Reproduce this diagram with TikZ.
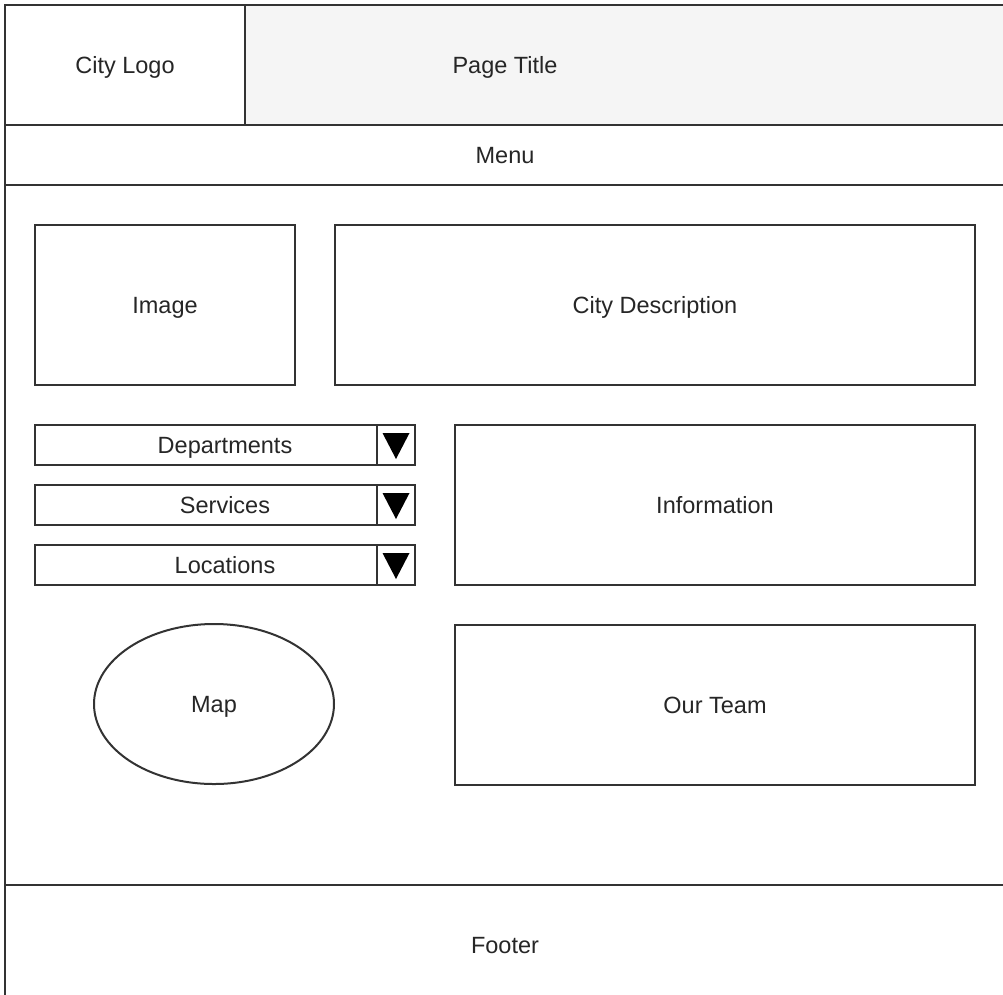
\documentclass[tikz,border=0pt]{standalone}
\usepackage{fontspec}
\setmainfont{Liberation Sans}
\usetikzlibrary{shapes.geometric}
\begin{document}
\begin{tikzpicture}[x=1pt,y=-1pt,line width=2pt,
    every node/.style={font=\fontsize{23.5}{28}\selectfont,text=black!85,text height=17,text depth=0},
    box/.style={draw=black!80,rectangle,inner sep=0,anchor=north west,fill=white},
    oval/.style={draw=black!80,ellipse,inner sep=0,fill=white}]
        \useasboundingbox (0,0) rectangle (1003,994);
        \node[box,fill=black!4,minimum width=1000,minimum height=120] (title) at (4,4) {Page Title};
        \node[box,minimum width=240,minimum height=120] (logo) at (4,4) {City Logo};
        \node[box,minimum width=1000,minimum height=60] (menu) at (4,124) {Menu};
        \node[box,minimum width=1000,minimum height=700] (body) at (4,184) {};
        \node[box,minimum width=1000,minimum height=120] (footer) at (4,884) {Footer};
        \node[box,minimum width=260,minimum height=160] (image) at (34,224) {Image};
        \node[box,minimum width=640,minimum height=160] (desc) at (334,224) {City Description};
        \foreach \name/\label/\y in {dept/Departments/424,serv/Services/484,loc/Locations/544}{
            \node[box,minimum width=380,minimum height=40] (\name) at (34,\y) {\label};
            \node[box,minimum width=38,minimum height=40] (\name arrow) at (376,\y) {};
            \fill[black] (\name arrow.center) ++(-13.5,-12) -- ++(27,0) -- ++(-13.5,26) -- cycle;
        }
        \node[box,minimum width=520,minimum height=160] (info) at (454,424) {Information};
        \node[oval,minimum width=240,minimum height=160] (map) at (214,704) {Map};
        \node[box,minimum width=520,minimum height=160] (team) at (454,624) {Our Team};
\end{tikzpicture}
\end{document}
